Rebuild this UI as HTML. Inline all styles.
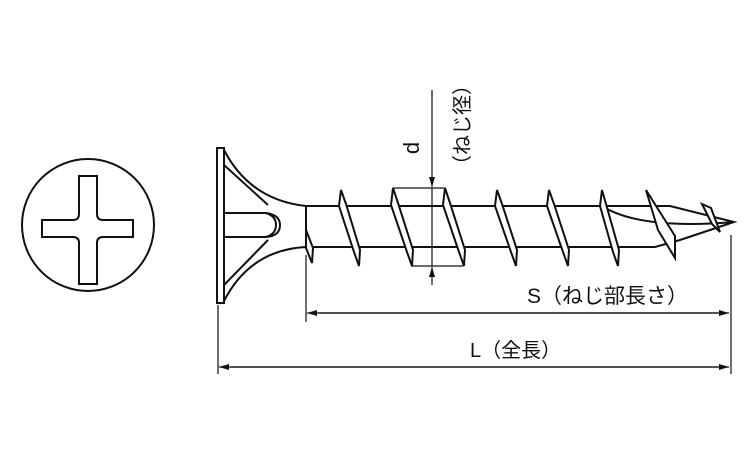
<!DOCTYPE html>
<html><head><meta charset="utf-8"><style>
html,body{margin:0;padding:0;background:#fff;}
svg{display:block;}
text{font-family:"Liberation Sans","Noto Sans CJK JP",sans-serif;fill:#111;}
</style></head><body>
<svg width="750" height="450" viewBox="0 0 750 450" xmlns="http://www.w3.org/2000/svg">
<defs>
<marker id="ar" markerWidth="10" markerHeight="6" refX="10" refY="3" orient="auto" markerUnits="userSpaceOnUse"><path d="M0,0 L10,3 L0,6 Z" fill="#111"/></marker>
</defs>
<g fill="none" stroke="#111" stroke-width="2">
<circle cx="88" cy="225" r="66"/>
<path d="M79,176 H97 V214 Q97,220 103,220 H133 V237 H103 Q97,237 97,243 V284 H79 V243 Q79,237 73,237 H42 V220 H73 Q79,220 79,214 Z"/>
<path d="M217,148 V303 H224 V148 Z"/>
<path d="M224,150 Q250,200 306,206"/>
<path d="M224,301 Q250,250 306,247"/>
<path d="M224,165 L268,205"/>
<path d="M224,285 L268,240"/>
<path d="M224,213 H266 Q280,215 280,225 Q280,236 266,237 H224"/>
<path d="M266,213 Q276,216 276,225 Q276,234 266,237"/>
<path d="M306,206 H670 L734,222 L680,240 L655,247 H306 Z" fill="#fff"/>
<path d="M306,206 V247"/>
<path d="M602,206 Q640,230 734,222"/>
</g>
<g fill="#fff" stroke="#111" stroke-width="2" stroke-linejoin="miter">
<path d="M306,230 L313,248 L312,263 L306,248 Z"/>
<path d="M341,190 L346,204 L360,250 L359,266 L354,252 L339,206 Z"/>
<path d="M393,188 L398,203 L413,250 L412,266 L407,252 L391,205 Z"/>
<path d="M445,188 L450,203 L465,250 L464,266 L459,252 L443,205 Z"/>
<path d="M497,190 L502,204 L517,250 L516,266 L511,252 L495,206 Z"/>
<path d="M549,190 L554,204 L569,250 L568,266 L563,252 L547,206 Z"/>
<path d="M602,190 L606,204 L619,250 L618,266 L613,252 L600,206 Z"/>
<path d="M646,190 L675,236 L675,258 L658,230 Z"/>
<path d="M702,204 L711,208 L720,232 L712,224 Z"/>
</g>
<g fill="none" stroke="#111" stroke-width="1.2">
<path d="M393,188 H445 M411,266 H463"/>
<line x1="432" y1="90" x2="432" y2="187" marker-end="url(#ar)"/>
<line x1="432" y1="285" x2="432" y2="267" marker-end="url(#ar)"/>
<line x1="432" y1="188" x2="432" y2="266"/>
<line x1="306" y1="255" x2="306" y2="322"/>
<line x1="218" y1="305" x2="218" y2="374"/>
<line x1="731" y1="235" x2="731" y2="374"/>
<line x1="318" y1="313" x2="729" y2="313" marker-end="url(#ar)"/>
<line x1="718" y1="313" x2="307" y2="313" marker-end="url(#ar)"/>
<line x1="230" y1="367" x2="729" y2="367" marker-end="url(#ar)"/>
<line x1="718" y1="367" x2="219" y2="367" marker-end="url(#ar)"/>
</g>
<text x="527" y="303" font-size="21">S（ねじ部長さ）</text>
<text x="470" y="357" font-size="20">L（全長）</text>
<text transform="translate(419,148) rotate(-90)" font-size="22" text-anchor="middle">d</text>
<text transform="translate(469,125) rotate(-90)" font-size="20" text-anchor="middle">（ねじ径）</text>
</svg>
</body></html>
